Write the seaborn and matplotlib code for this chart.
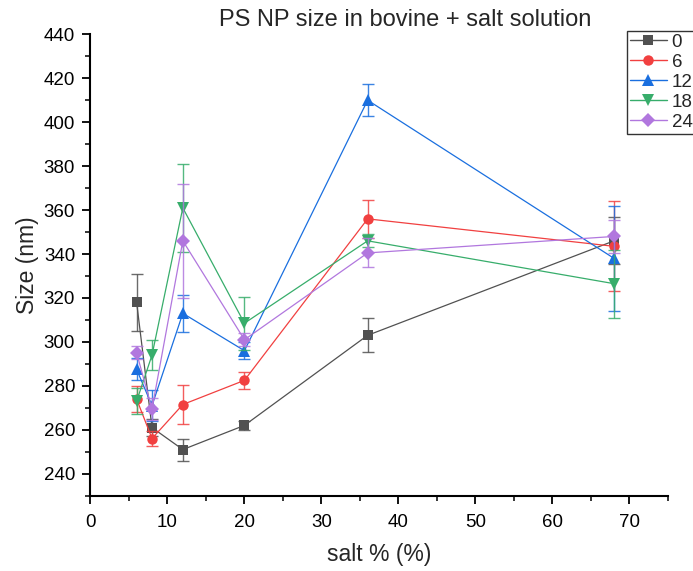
import matplotlib
matplotlib.use("Agg")
import matplotlib.pyplot as plt
import seaborn as sns
import pandas as pd
from matplotlib.ticker import MultipleLocator
from matplotlib.lines import Line2D

# ---- data ----
salt = [6, 8, 12, 20, 36, 68]
labels = ["0", "6", "12", "18", "24"]
size_0 = [318, 261, 251, 262, 303, 346]
err_0 = [13, 4, 5, 2, 7.7, 10.7]
size_6 = [274, 256, 271.5, 282.5, 356, 343.5]
err_6 = [6, 3.5, 9, 4, 8.5, 20.5]
size_12 = [287.5, 271, 313, 296, 410, 338]
err_12 = [5, 7, 8.5, 4, 7.3, 24]
size_18 = [273, 294, 361, 308.5, 346, 326.5]
err_18 = [6, 7, 20, 12, 3, 15.5]
size_24 = [295, 269.5, 346, 301, 340.5, 348]
err_24 = [3, 5, 26, 3, 6.6, 7.5]

series = [size_0, size_6, size_12, size_18, size_24]
errors = [err_0, err_6, err_12, err_18, err_24]
colors = ["#515151", "#F14040", "#1A6FDF", "#37AD6B", "#B177DE"]
markers = ["s", "o", "^", "v", "D"]
msizes = [7.5, 7.5, 8.5, 8.5, 7.5]

sns.set_style("ticks")
plt.rcParams["font.family"] = ["Liberation Sans", "DejaVu Sans"]

fig = plt.figure(figsize=(6.93, 5.71), dpi=100)
ax = fig.add_axes([90.4 / 693, 1 - 495.7 / 571, (668 - 90.4) / 693, (495.7 - 34.3) / 571])

for lab, ys, es, c, m, ms in zip(labels, series, errors, colors, markers, msizes):
    df = pd.DataFrame({"salt": salt, "size": ys})
    sns.lineplot(data=df, x="salt", y="size", ax=ax, color=c, linewidth=0.9,
                 marker=m, markersize=ms, markeredgewidth=0, sort=False,
                 errorbar=None, label=lab, legend=False)
    ax.errorbar(salt, ys, yerr=es, fmt="none", ecolor=c, elinewidth=1.0,
                capsize=4, capthick=1.0, alpha=0.85)

ax.set_xlim(0, 75)
ax.set_ylim(230, 440)
ax.xaxis.set_major_locator(MultipleLocator(10))
ax.xaxis.set_minor_locator(MultipleLocator(5))
ax.set_yticks(range(240, 441, 20))
ax.yaxis.set_minor_locator(MultipleLocator(10))

for s in ["top", "right"]:
    ax.spines[s].set_visible(False)
for s in ["left", "bottom"]:
    ax.spines[s].set_linewidth(1.5)
    ax.spines[s].set_color("black")

ax.tick_params(axis="both", which="major", direction="out", length=6, width=1.3,
               labelsize=13.5, colors="black")
ax.tick_params(axis="y", which="major", pad=5)
ax.tick_params(axis="x", which="major", pad=7)
ax.tick_params(axis="both", which="minor", direction="out", length=3.5, width=1.3)

ax.set_xlabel("salt % (%)", fontsize=16.5, labelpad=9)
ax.set_ylabel("Size (nm)", fontsize=16.5, labelpad=3)
ax.set_title("PS NP size in bovine + salt solution", fontsize=17, pad=6,
             x=(405 - 90.4) / 577.6)

handles = [Line2D([], [], color=c, marker=m, markersize=ms, markeredgewidth=0, linewidth=1)
           for c, m, ms in zip(colors, markers, msizes)]
leg = fig.legend(handles, labels, loc="upper left",
                 bbox_to_anchor=(626.7 / 693, 1 - 31 / 571),
                 fontsize=13.5, frameon=True, fancybox=False, handlelength=2.0,
                 handletextpad=0.25, labelspacing=0.15, borderpad=0.15,
                 borderaxespad=0)
leg.get_frame().set_edgecolor("black")
leg.get_frame().set_linewidth(1.0)

fig.savefig("out.png", dpi=100)
